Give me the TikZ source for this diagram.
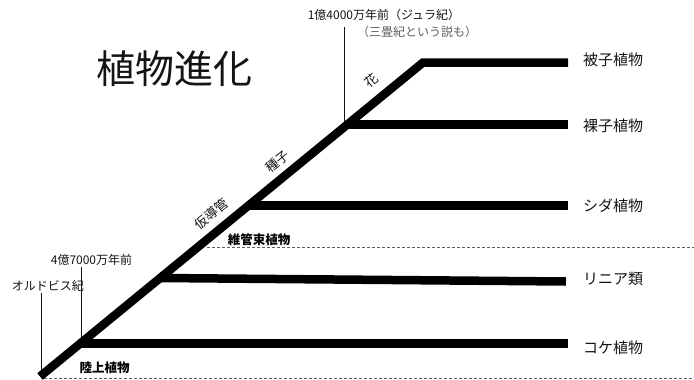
\documentclass[tikz,border=0pt]{standalone}
\usepackage{fontspec}
\setmainfont{Noto Sans CJK JP}
\usepackage{tikz}
\usetikzlibrary{positioning}
\definecolor{evink}{RGB}{20, 20, 20}
\definecolor{evgray}{RGB}{95, 95, 95}
\tikzset{
    stem/.style={line width=8.5pt, draw=black, line join=miter},
    guide/.style={line width=0.7pt, draw=evink},
    border/.style={line width=0.8pt, draw=evgray, dash pattern=on 3pt off 2pt},
    plantlabel/.style={inner sep=0pt, text=evink, font=\fontsize{15}{15}\selectfont},
    notelabel/.style={inner sep=0pt, text=evink, font=\fontsize{12}{12}\selectfont},
    grouplabel/.style={inner sep=0pt, text=black, font=\fontsize{12.5}{12.5}\selectfont\bfseries},
    traitlabel/.style={inner sep=0pt, text=evink, rotate=39.35, font=\fontsize{13}{13}\selectfont},
    titlelabel/.style={inner sep=0pt, text=evink, font=\fontsize{39}{39}\selectfont}
}

\begin{document}
\begin{tikzpicture}[x=1pt, y=-1pt]
    \useasboundingbox (0,0) rectangle (694,380);
    % trunk and branch points
    \coordinate (base) at (40,376.5);
    \coordinate (top) at (423,62.5);
    \coordinate (b2) at (347.3,124.5);
    \coordinate (b3) at (248.5,205.5);
    \coordinate (b4) at (160.1,278);
    \coordinate (b5) at (80.2,343.5);
    \coordinate (e1) at (568,62.5);
    \coordinate (e2) at (568,124.5);
    \coordinate (e3) at (568,205.5);
    \coordinate (e4) at (566,281.5);
    \coordinate (e5) at (568,343.5);
    % time marks
    \coordinate (ordo) at (41.5,293);
    \coordinate (land) at (81.5,267);
    \coordinate (jura) at (344,27);
    \draw[guide] (ordo) -- (ordo |- base);
    \draw[guide] (land) -- (land |- b5);
    \draw[guide] (jura) -- (jura |- b2);
    % group borders
    \coordinate (v1) at (207,247);
    \coordinate (v2) at (694,247);
    \coordinate (r1) at (44,378);
    \coordinate (r2) at (694,378);
    \draw[border] (v1) -- (v2);
    \draw[border] (r1) -- (r2);
    % the tree
    \draw[stem] (base) -- (top) -- (e1);
    \draw[stem] (b2) -- (e2);
    \draw[stem] (b3) -- (e3);
    \draw[stem] (b4) -- (e4);
    \draw[stem] (b5) -- (e5);
    % labels
    \node[titlelabel] (title) at (174,69) {植物進化};
    \node[plantlabel, right=15pt of e1, yshift=3pt] (hishi) {被子植物};
    \node[plantlabel, right=15pt of e2, yshift=-1.5pt] (rashi) {裸子植物};
    \node[plantlabel, right=15pt of e3, yshift=-0.5pt] (shida) {シダ植物};
    \node[plantlabel, right=17pt of e4, yshift=3pt] (rinia) {リニア類};
    \node[plantlabel, right=15pt of e5, yshift=-4.5pt] (koke) {コケ植物};
    \node[grouplabel] (ikan) at (259,240) {維管束植物};
    \node[grouplabel] (rikujo) at (104.5,368) {陸上植物};
    \node[notelabel] (ordolabel) at (48,286) {オルドビス紀};
    \node[notelabel] (landlabel) at (91.5,260) {4億7000万年前};
    \node[notelabel] (juralabel) at (384,15) {1億4000万年前（ジュラ紀）};
    \node[notelabel, text=evgray] (triaslabel) at (417,32) {（三畳紀という説も）};
    \node[traitlabel] (kadokan) at (211,214) {仮導管};
    \node[traitlabel] (shushi) at (277,162) {種子};
    \node[traitlabel] (hana) at (371,81) {花};
\end{tikzpicture}
\end{document}
